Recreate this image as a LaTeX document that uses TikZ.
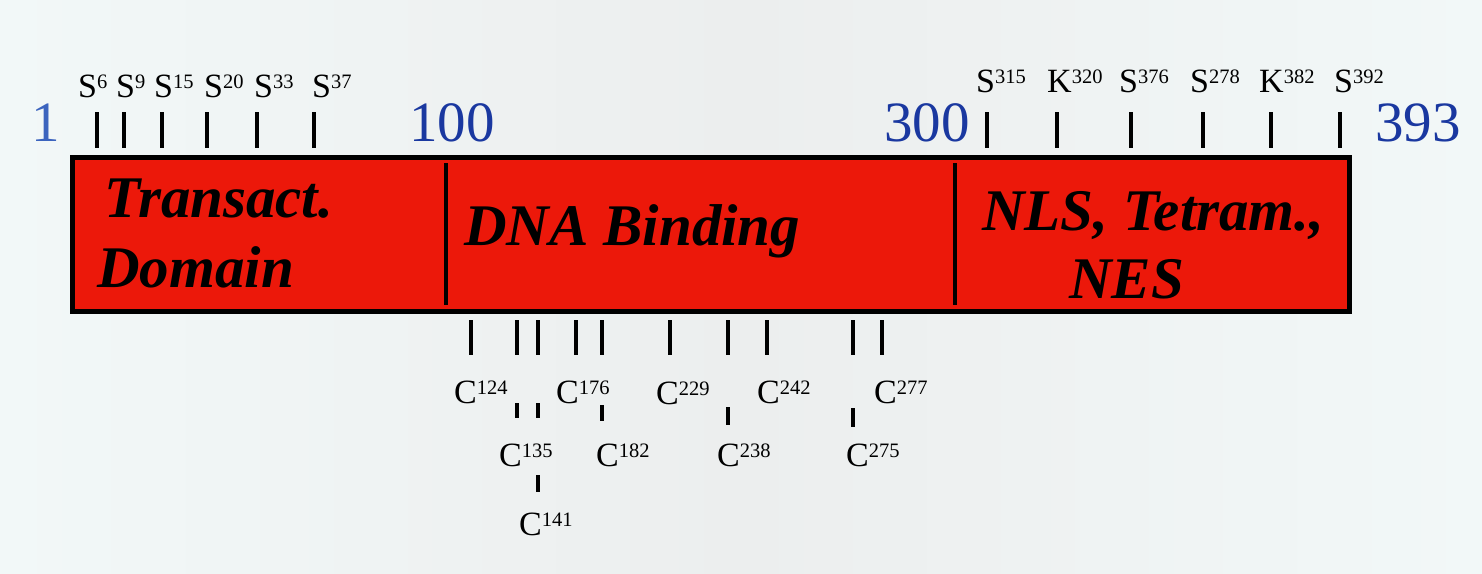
\documentclass[tikz,border=0pt]{standalone}
\usepackage{fontspec}
\setmainfont{Liberation Serif}
\definecolor{bandred}{RGB}{236,24,10}
\definecolor{posblue}{RGB}{26,56,160}
\definecolor{posblue1}{RGB}{60,100,190}
\definecolor{paperside}{RGB}{242,248,248}
\definecolor{papermid}{RGB}{236,238,238}
% residue label: letter with a raised position number
\newcommand\resid[2]{#1\raisebox{9pt}{\fontsize{20.5}{20.5}\selectfont #2}}
\tikzset{
  site/.style={font=\fontsize{34}{34}\selectfont, anchor=base west, inner sep=0pt},
  posnum/.style={font=\fontsize{57}{57}\selectfont, text=posblue, anchor=base, inner sep=0pt},
  domlabel/.style={font=\fontsize{59}{62}\selectfont\bfseries\itshape, anchor=base west, inner sep=0pt},
  tickmark/.style={line width=4.8pt},
  border/.style={line width=5pt},
}
\begin{document}
\begin{tikzpicture}[x=1pt,y=-1pt]
  \useasboundingbox (0,0) rectangle (1482,573);
  \shade[left color=paperside, right color=paperside, middle color=papermid]
    (0,0) rectangle (1482,573);

  % protein bar with its three domains
  \draw[border, fill=bandred] (72.5,157.5) rectangle (1349.5,311.5);
  \draw[tickmark] (446,163) -- (446,305);
  \draw[tickmark] (955,163) -- (955,305);

  \node[domlabel] (td1) at (104,217) {Transact.};
  \node[domlabel] (td2) at (97,287) {Domain};
  \node[domlabel] (dbd) at (464,245) {DNA Binding};
  \node[domlabel] (ct1) at (982,230) {NLS, Tetram.,};
  \node[domlabel] (ct2) at (1069,298) {NES};

  % residue numbering
  \node[posnum, text=posblue1] (p1) at (46,141) {1};
  \node[posnum] (p100) at (452,141) {100};
  \node[posnum] (p300) at (927,141) {300};
  \node[posnum] (p393) at (1418,141) {393};

  % N-terminal and C-terminal modification sites
  \foreach \x in {97,124,162,207,257,314,987,1057,1131,1203,1271,1340}
    \draw[tickmark] (\x,112) -- (\x,148);

  \node[site] (s6)  at (78,97)  {\resid{S}{6}};
  \node[site] (s9)  at (116,97) {\resid{S}{9}};
  \node[site] (s15) at (154,97) {\resid{S}{15}};
  \node[site] (s20) at (204,97) {\resid{S}{20}};
  \node[site] (s33) at (254,97) {\resid{S}{33}};
  \node[site] (s37) at (312,97) {\resid{S}{37}};

  \node[site] (s315) at (976,92)  {\resid{S}{315}};
  \node[site] (k320) at (1047,92) {\resid{K}{320}};
  \node[site] (s376) at (1119,92) {\resid{S}{376}};
  \node[site] (s278) at (1190,92) {\resid{S}{278}};
  \node[site] (k382) at (1259,92) {\resid{K}{382}};
  \node[site] (s392) at (1334,92) {\resid{S}{392}};

  % cysteines of the DNA binding domain
  \foreach \x in {471,517,538,576,602,670,728,767,853,882}
    \draw[tickmark] (\x,320) -- (\x,355);
  \foreach \x/\a/\b in {517/403/418,538/403/418,602/405/421,728/407/425,853/408/427,538/475/492}
    \draw[tickmark] (\x,\a) -- (\x,\b);

  \node[site] (c124) at (454,403) {\resid{C}{124}};
  \node[site] (c176) at (556,403) {\resid{C}{176}};
  \node[site] (c229) at (656,404) {\resid{C}{229}};
  \node[site] (c242) at (757,403) {\resid{C}{242}};
  \node[site] (c277) at (874,403) {\resid{C}{277}};
  \node[site] (c135) at (499,466) {\resid{C}{135}};
  \node[site] (c182) at (596,466) {\resid{C}{182}};
  \node[site] (c238) at (717,466) {\resid{C}{238}};
  \node[site] (c275) at (846,466) {\resid{C}{275}};
  \node[site] (c141) at (519,535) {\resid{C}{141}};
\end{tikzpicture}
\end{document}
